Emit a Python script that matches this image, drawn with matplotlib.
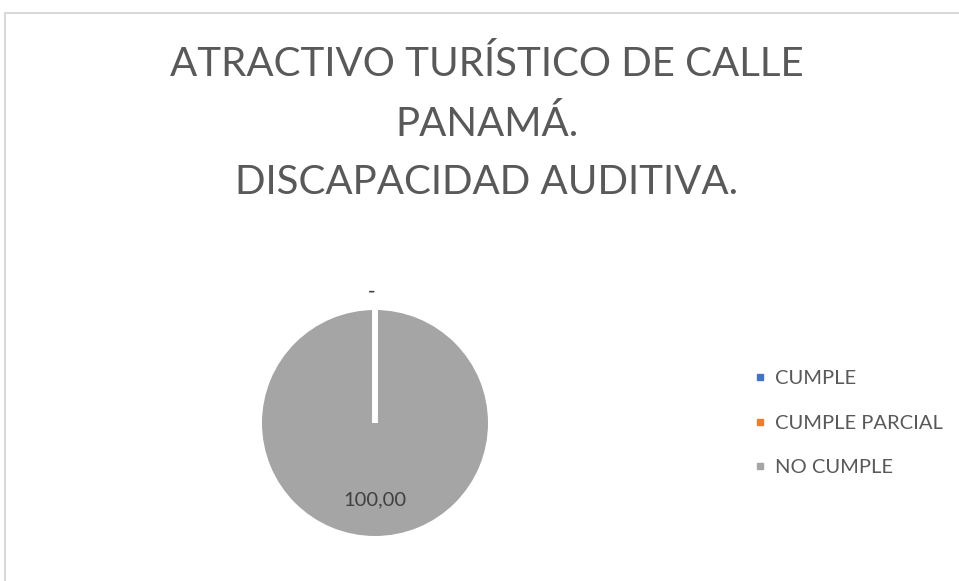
import matplotlib
matplotlib.use('Agg')
import matplotlib.pyplot as plt
from matplotlib.lines import Line2D
from matplotlib.patches import Rectangle

plt.rcParams['font.family'] = ['Lato', 'DejaVu Sans']

categorias = ['CUMPLE', 'CUMPLE PARCIAL', 'NO CUMPLE']
valores = [0, 0, 100]
colores = ['#4472C4', '#ED7D31', '#A5A5A5']
titulo = 'ATRACTIVO TURÍSTICO DE CALLE\nPANAMÁ.\nDISCAPACIDAD AUDITIVA.'

fig = plt.figure(figsize=(9.59, 5.81), dpi=100)
fig.patches.append(Rectangle((5 / 959, -0.1), 1.2, (581 - 13) / 581 + 0.1,
                             transform=fig.transFigure, fill=False,
                             edgecolor='#D9D9D9', linewidth=1.5))

fig.text(487 / 959, 1 - 123 / 581, titulo, ha='center', va='center',
         fontsize=29, color='#595959', linespacing=1.7)

ax = fig.add_axes([(375 - 113) / 959, 45 / 581, 226 / 959, 226 / 581])


def etiqueta(pct):
    return '' if pct < 0.01 else f'{pct:.2f}'.replace('.', ',')


wedges, textos, autotextos = ax.pie(
    valores, colors=colores, startangle=90, counterclock=False,
    labels=['-' if v == 0 else '' for v in valores], labeldistance=1.17,
    autopct=etiqueta, pctdistance=0.68,
    wedgeprops=dict(edgecolor='white', linewidth=4),
    textprops=dict(fontsize=14.5, color='#404040'))
for w, v in zip(wedges, valores):
    if v == 0:
        w.set_zorder(5)
    else:
        w.set_linewidth(0)
ax.set_xlim(-1, 1)
ax.set_ylim(-1, 1)
ax.set_aspect('equal')

handles = [Line2D([], [], marker='s', linestyle='none', markersize=5,
                  markerfacecolor=c, markeredgecolor=c) for c in colores]
fig.legend(handles, categorias, loc='center left',
           bbox_to_anchor=(736 / 959, 1 - 423 / 581), frameon=False,
           fontsize=14.5, labelcolor='#595959', handlelength=0.6,
           handletextpad=0.45, labelspacing=1.38)

fig.savefig('out.png', dpi=100)
